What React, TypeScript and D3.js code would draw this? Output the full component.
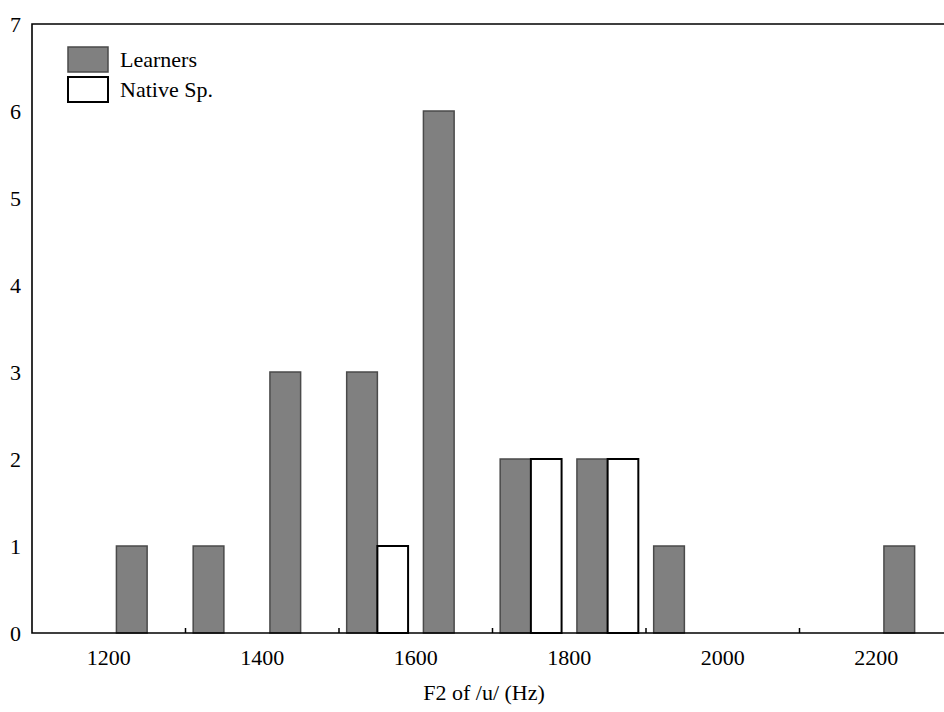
import React from "react";
import { scaleLinear, scaleBand, range } from "d3";

const width = 944;
const height = 712;

// plot frame (the right edge runs past the window)
const margin = { top: 24, right: -9, bottom: 79, left: 32 };

const fontFamily = '"Liberation Serif", "Times New Roman", serif';
const fontSize = 22;

const learnerColor = "#808080";
const learnerStroke = "#4a4a4a";
const nativeColor = "#ffffff";

// Data: histogram bins of 100 Hz, counts per group
const bins = [1200, 1300, 1400, 1500, 1600, 1700, 1800, 1900, 2000, 2100, 2200];
const learners = [1, 1, 3, 3, 6, 2, 2, 1, 0, 0, 1];
const native = [0, 0, 0, 1, 0, 2, 2, 0, 0, 0, 0];

const xTickLabels = [1200, 1400, 1600, 1800, 2000, 2200];
const xMinorTicks = [1300, 1500, 1700, 1900, 2100];
const yTicks = [0, 1, 2, 3, 4, 5, 6, 7];

const xAxisLabel = "F2 of /u/ (Hz)";
const legendItems = [
  { text: "Learners", fill: learnerColor, stroke: learnerStroke },
  { text: "Native Sp.", fill: nativeColor, stroke: "#000" },
];

const Histogram = () => {
  const innerLeft = margin.left;
  const innerRight = width - margin.right;
  const innerTop = margin.top;
  const innerBottom = height - margin.bottom;

  const xScale = scaleLinear().domain([1100, 2300]).range([innerLeft, innerRight]);
  const yScale = scaleLinear().domain([0, 7]).range([innerBottom, innerTop]);

  const band = scaleBand<number>()
    .domain(bins)
    .range([xScale(1200), xScale(2300)])
    .paddingInner(0.2)
    .paddingOuter(0.1);
  const barW = band.bandwidth() / 2;

  return (
    <svg
      width={width}
      height={height}
      style={{ position: "absolute", left: 0, top: 0, background: "#fff" }}
      fontFamily={fontFamily}
      fontSize={fontSize}
    >
      {/* bars */}
      {range(bins.length).map((i) => {
        const x0 = band(bins[i]) as number;
        return (
          <g key={bins[i]}>
            {learners[i] > 0 && (
              <rect
                x={x0}
                y={yScale(learners[i])}
                width={barW}
                height={yScale(0) - yScale(learners[i])}
                fill={learnerColor}
                stroke={learnerStroke}
                strokeWidth={1.5}
              />
            )}
            {native[i] > 0 && (
              <rect
                x={x0 + barW}
                y={yScale(native[i])}
                width={barW}
                height={yScale(0) - yScale(native[i])}
                fill={nativeColor}
                stroke="#000"
                strokeWidth={2}
              />
            )}
          </g>
        );
      })}

      {/* frame */}
      <path
        d={`M${innerRight},${innerTop}H${innerLeft}V${innerBottom}H${innerRight}`}
        fill="none"
        stroke="#000"
        strokeWidth={1.6}
      />

      {/* x axis minor ticks, pointing up */}
      {xMinorTicks.map((t) => (
        <line
          key={t}
          x1={xScale(t)}
          x2={xScale(t)}
          y1={innerBottom}
          y2={innerBottom - 5}
          stroke="#000"
          strokeWidth={1.5}
        />
      ))}

      {/* x tick labels */}
      {xTickLabels.map((t) => (
        <text key={t} x={xScale(t)} y={innerBottom + 32} textAnchor="middle">
          {t}
        </text>
      ))}

      {/* y tick labels */}
      {yTicks.map((t) => (
        <text key={t} x={innerLeft - 11} y={yScale(t)} dy="0.35em" textAnchor="end">
          {t}
        </text>
      ))}

      <text x={484} y={height - 12} textAnchor="middle">
        {xAxisLabel}
      </text>

      {/* legend */}
      <g transform="translate(68,47)">
        {legendItems.map((d, i) => (
          <g key={d.text} transform={`translate(0,${i * 30})`}>
            <rect
              width={40}
              height={25}
              fill={d.fill}
              stroke={d.stroke}
              strokeWidth={i === 0 ? 1.5 : 2}
            />
            <text x={52} y={20}>
              {d.text}
            </text>
          </g>
        ))}
      </g>
    </svg>
  );
};

export default function App() {
  return <Histogram />;
}
